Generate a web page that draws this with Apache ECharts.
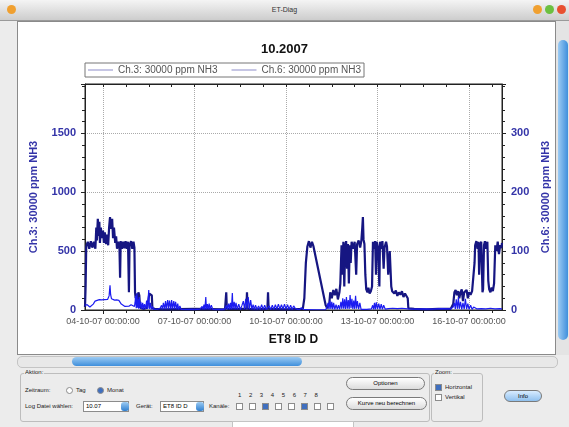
<!DOCTYPE html>
<html>
<head>
<meta charset="utf-8">
<script src="https://cdn.jsdelivr.net/npm/echarts@6.0.0/dist/echarts.min.js"></script>
<style>
body { margin: 0; width: 569px; height: 427px; overflow: hidden; position: relative; background: #ececec; font-family: "Liberation Sans", Arial, sans-serif; }
.abs { position: absolute; }
.titlebar { left: 0; top: 0; width: 569px; height: 20px; background: linear-gradient(#f4f4f4, #cdcdcd); border-bottom: 1px solid #9a9a9a; text-align: center; font-size: 7px; line-height: 20px; color: #333; }
.dot { width: 9px; height: 9px; border-radius: 50%; top: 5px; }
.panel { left: 17px; top: 21px; width: 537px; height: 332px; background: #fff; border: 1px solid #8a8a8a; }
.vscroll { left: 556px; top: 21px; width: 13px; height: 334px; background: #e4e4e4; }
.vthumb { left: 558px; top: 40px; width: 10px; height: 300px; border-radius: 5px; background: linear-gradient(90deg, #9ccbf3, #3f8fdc); }
.hscroll { left: 17px; top: 356px; width: 539px; height: 10px; background: #e8e8e8; border: 1px solid #c4c4c4; border-radius: 5px; }
.hthumb { left: 72px; top: 357px; width: 230px; height: 9px; border-radius: 5px; background: linear-gradient(#9ccbf3, #3f8fdc); }
.group { border: 1px solid #bdbdbd; border-radius: 3px; }
.lbl { font-size: 6px; color: #222; white-space: nowrap; }
.box { background: #fff; border: 1px solid #8c8c8c; font-size: 6px; line-height: 9px; padding-left: 2px; box-sizing: border-box; }
.spin { width: 8px; height: 9px; border-radius: 3px; background: linear-gradient(#9ccbf3, #2f7fd0); }
.cb { width: 7px; height: 7px; border: 1px solid #8c8c8c; background: #fff; box-sizing: border-box; }
.cb.on { background: #3f6fbf; }
.btn { border: 1px solid #7a7a7a; border-radius: 7px; background: linear-gradient(#ffffff, #dcdcdc); font-size: 6px; text-align: center; line-height: 11px; }
#chart { left: 0; top: 0; width: 569px; height: 427px; }
</style>
</head>
<body>
<div class="abs titlebar">ET-Diag</div>
<div class="abs dot" style="left:7px;background:#f0a030"></div>
<div class="abs dot" style="left:533px;background:#f0a030"></div>
<div class="abs dot" style="left:545px;background:#6cc040"></div>
<div class="abs dot" style="left:557px;background:#e85030"></div>
<div class="abs panel"></div>
<div class="abs vscroll"></div>
<div class="abs vthumb"></div>
<div class="abs hscroll"></div>
<div class="abs hthumb"></div>

<div class="abs group" style="left:20px;top:373px;width:408px;height:47px"></div>
<div class="abs lbl" style="left:24px;top:369px;background:#ececec;padding:0 1px">Aktion:</div>
<div class="abs lbl" style="left:25px;top:387px">Zeitraum:</div>
<div class="abs cb" style="left:66px;top:387px;border-radius:50%"></div>
<div class="abs lbl" style="left:76px;top:387px">Tag</div>
<div class="abs cb on" style="left:97px;top:387px;border-radius:50%"></div>
<div class="abs lbl" style="left:107px;top:387px">Monat</div>
<div class="abs lbl" style="left:25px;top:403px">Log Datei wählen:</div>
<div class="abs box" style="left:83px;top:401px;width:46px;height:11px">10.07</div>
<div class="abs spin" style="left:121px;top:402px"></div>
<div class="abs lbl" style="left:136px;top:403px">Gerät:</div>
<div class="abs box" style="left:160px;top:401px;width:44px;height:11px">ET8 ID D</div>
<div class="abs spin" style="left:196px;top:402px"></div>
<div class="abs lbl" style="left:209px;top:403px">Kanäle:</div>
<div class="abs lbl" style="left:238px;top:392px;letter-spacing:7.6px">12345678</div>
<div class="abs cb" style="left:236px;top:403px"></div>
<div class="abs cb" style="left:249px;top:403px"></div>
<div class="abs cb on" style="left:262px;top:403px"></div>
<div class="abs cb" style="left:275px;top:403px"></div>
<div class="abs cb" style="left:288px;top:403px"></div>
<div class="abs cb on" style="left:301px;top:403px"></div>
<div class="abs cb" style="left:314px;top:403px"></div>
<div class="abs cb" style="left:327px;top:403px"></div>
<div class="abs btn" style="left:346px;top:377px;width:77px;height:11px">Optionen</div>
<div class="abs btn" style="left:346px;top:397px;width:79px;height:11px">Kurve neu berechnen</div>

<div class="abs group" style="left:431px;top:373px;width:50px;height:47px"></div>
<div class="abs lbl" style="left:434px;top:369px;background:#ececec;padding:0 1px">Zoom:</div>
<div class="abs cb on" style="left:435px;top:384px"></div>
<div class="abs lbl" style="left:445px;top:384px">Horizontal</div>
<div class="abs cb" style="left:435px;top:394px"></div>
<div class="abs lbl" style="left:445px;top:394px">Vertikal</div>
<div class="abs btn" style="left:504px;top:390px;width:36px;height:10px;background:linear-gradient(#d8ecff,#8fc0ee);line-height:10px">Info</div>
<div class="abs" style="left:232px;top:421px;width:120px;height:6px;background:#fff;border:1px solid #c4c4c4"></div>

<div id="chart" class="abs"></div>

<script>
// Kanal 3 (linke Achse)
var ch3Time = [
  3.41, 3.44, 3.48, 3.52, 3.57, 3.62, 3.68, 3.74, 3.80, 3.88,
  3.95, 4.00, 4.05, 4.10, 4.15, 4.20, 4.23, 4.25, 4.28, 4.32,
  4.38, 4.45, 4.52, 4.56, 4.60, 4.65, 4.72, 4.78, 4.85, 4.92,
  4.98, 5.03, 5.05, 5.07, 5.09, 5.11, 5.13, 5.15, 5.17, 5.19,
  5.21, 5.24, 5.27, 5.30, 5.33, 5.36, 5.40, 5.43, 5.46, 5.50,
  5.52, 5.55, 5.58, 5.62, 5.66, 5.72, 5.80, 5.87, 5.92, 5.95,
  5.98, 6.02, 6.05, 6.08, 6.12, 6.15, 6.18, 6.22, 6.25, 6.28,
  6.32, 6.35, 6.38, 6.42, 6.45, 6.48, 6.52, 6.56, 6.62, 6.75,
  6.90, 7.00, 7.18, 7.25, 7.28, 7.31, 7.34, 7.37, 7.39, 7.42,
  7.45, 7.48, 7.51, 7.55, 7.60, 7.65, 7.72, 7.80, 7.90, 8.00,
  8.05, 8.08, 8.12, 8.15, 8.18, 8.21, 8.24, 8.26, 8.30, 8.33,
  8.36, 8.40, 8.45, 8.50, 8.55, 8.60, 8.64, 8.68, 8.72, 8.76,
  8.80, 8.84, 8.88, 8.92, 8.96, 9.00, 9.05, 9.10, 9.15, 9.20,
  9.25, 9.30, 9.35, 9.41, 9.45, 9.50, 9.55, 9.60, 9.65, 9.70,
  9.75, 9.80, 9.85, 9.90, 9.95, 10.00, 10.05, 10.10, 10.15, 10.20,
  10.25, 10.30, 10.38, 10.45, 10.50, 10.53, 10.56, 10.60, 11.00, 11.30,
  11.35, 11.38, 11.41, 11.44, 11.47, 11.50, 11.53, 11.56, 11.60, 11.64,
  11.68, 11.72, 11.76, 11.80, 11.83, 11.86, 11.89, 11.92, 11.95, 11.98,
  12.01, 12.04, 12.07, 12.10, 12.13, 12.16, 12.19, 12.22, 12.25, 12.28,
  12.31, 12.34, 12.38, 12.42, 12.46, 12.52, 12.65, 12.80, 12.84, 12.87,
  12.90, 12.93, 12.96, 13.00, 13.04, 13.08, 13.12, 13.16, 13.20, 13.25,
  13.35, 13.50, 13.65, 13.80, 14.00, 14.20, 14.50, 14.80, 15.10, 15.40,
  15.48, 15.52, 15.55, 15.58, 15.62, 15.65, 15.68, 15.72, 15.76, 15.80,
  15.84, 15.88, 15.92, 15.96, 16.00, 16.05, 16.10, 16.15, 16.25, 16.40,
  16.55, 16.70, 16.85, 17.00, 17.08
];
var ch3Val = [
  40, 55, 45, 30, 25, 30, 50, 75, 85, 88,
  86, 85, 88, 84, 90, 120, 210, 130, 95, 88,
  84, 86, 82, 70, 50, 40, 30, 28, 32, 45,
  40, 30, 60, 120, 15, 140, 20, 90, 10, 110,
  15, 70, 10, 60, 8, 50, 10, 80, 8, 170,
  10, 60, 5, 30, 5, 12, 8, 15, 40, 8,
  60, 10, 75, 12, 85, 10, 80, 10, 85, 12,
  75, 10, 70, 8, 55, 5, 35, 5, 5, 3,
  5, 3, 8, 30, 5, 45, 5, 110, 8, 50,
  8, 55, 5, 40, 5, 8, 3, 5, 3, 10,
  40, 5, 55, 8, 60, 8, 145, 10, 70, 8,
  60, 8, 50, 5, 35, 75, 10, 95, 12, 110,
  10, 85, 8, 45, 5, 40, 5, 35, 5, 45,
  5, 40, 5, 10, 35, 5, 40, 5, 45, 8,
  50, 8, 45, 8, 50, 8, 45, 5, 40, 5,
  35, 15, 5, 3, 20, 35, 10, 3, 2, 3,
  30, 60, 8, 80, 10, 70, 8, 60, 5, 45,
  5, 40, 5, 70, 10, 100, 12, 90, 8, 110,
  12, 85, 8, 127, 15, 95, 8, 80, 10, 120,
  12, 75, 8, 60, 5, 8, 5, 10, 40, 5,
  60, 5, 65, 8, 55, 5, 50, 5, 40, 8,
  12, 15, 12, 15, 10, 8, 10, 8, 12, 10,
  25, 60, 8, 90, 10, 110, 10, 70, 5, 60,
  8, 95, 8, 55, 5, 40, 5, 25, 10, 12,
  10, 15, 10, 12, 10
];

// Kanal 6 (rechte Achse)
var ch6Time = [
  3.41, 3.43, 3.45, 3.50, 3.55, 3.60, 3.65, 3.70, 3.75, 3.78,
  3.80, 3.83, 3.86, 3.88, 3.90, 3.93, 3.96, 4.00, 4.03, 4.06,
  4.10, 4.13, 4.17, 4.20, 4.23, 4.26, 4.30, 4.33, 4.36, 4.40,
  4.43, 4.46, 4.50, 4.54, 4.56, 4.58, 4.62, 4.66, 4.70, 4.74,
  4.78, 4.82, 4.85, 4.87, 4.92, 4.96, 5.00, 5.03, 5.05, 5.07,
  5.10, 5.13, 5.16, 5.19, 5.21, 5.25, 5.30, 5.35, 5.45, 5.52,
  5.56, 5.60, 5.62, 5.70, 6.00, 7.00, 8.00, 8.04, 8.06, 8.70,
  8.72, 8.74, 9.00, 9.39, 9.41, 9.43, 10.00, 10.55, 10.60, 10.65,
  10.70, 10.75, 10.80, 10.85, 10.90, 11.30, 11.35, 11.42, 11.45, 11.50,
  11.55, 11.60, 11.65, 11.70, 11.75, 11.78, 11.82, 11.85, 11.88, 11.91,
  11.94, 11.97, 12.00, 12.03, 12.06, 12.09, 12.12, 12.15, 12.20, 12.25,
  12.30, 12.33, 12.38, 12.43, 12.47, 12.50, 12.52, 12.54, 12.57, 12.60,
  12.63, 12.67, 12.70, 12.74, 12.78, 12.82, 12.85, 12.88, 12.92, 12.95,
  12.97, 13.02, 13.06, 13.08, 13.12, 13.16, 13.20, 13.23, 13.28, 13.31,
  13.35, 13.40, 13.45, 13.48, 13.55, 13.60, 13.65, 13.70, 13.75, 13.80,
  13.85, 13.90, 13.95, 13.99, 14.01, 14.20, 14.60, 15.00, 15.40, 15.48,
  15.52, 15.56, 15.60, 15.64, 15.68, 15.72, 15.76, 15.80, 15.84, 15.88,
  15.92, 15.96, 16.00, 16.05, 16.10, 16.15, 16.18, 16.20, 16.24, 16.28,
  16.31, 16.33, 16.36, 16.40, 16.44, 16.46, 16.49, 16.52, 16.56, 16.60,
  16.63, 16.66, 16.70, 16.74, 16.78, 16.82, 16.86, 16.90, 16.94, 16.98,
  17.02, 17.06, 17.08
];
var ch6Val = [
  5, 40, 108, 116, 104, 117, 106, 116, 104, 140,
  118, 155, 126, 150, 114, 140, 122, 135, 114, 132,
  112, 128, 110, 140, 158, 138, 155, 122, 140, 114,
  125, 104, 116, 106, 55, 117, 104, 116, 105, 117,
  104, 116, 30, 110, 117, 104, 116, 106, 30, 20,
  28, 15, 30, 25, 8, 3, 5, 2, 4, 28,
  30, 25, 3, 2, 1, 2, 1, 30, 2, 2,
  30, 2, 1, 2, 30, 2, 1, 2, 20, 80,
  108, 117, 106, 116, 108, 8, 3, 12, 30, 20,
  34, 25, 36, 18, 30, 45, 110, 60, 116, 40,
  108, 117, 70, 112, 45, 110, 80, 116, 104, 116,
  60, 112, 118, 106, 118, 140, 158, 120, 112, 60,
  35, 30, 38, 28, 32, 40, 116, 104, 117, 60,
  116, 105, 40, 116, 104, 117, 70, 106, 116, 108,
  60, 100, 40, 32, 28, 33, 24, 30, 26, 32,
  22, 28, 25, 20, 3, 2, 1, 2, 2, 10,
  30, 34, 25, 32, 20, 30, 35, 15, 30, 28,
  34, 20, 30, 26, 32, 30, 80, 110, 117, 104,
  116, 60, 110, 116, 30, 35, 110, 117, 104, 116,
  50, 35, 30, 38, 32, 45, 110, 100, 116, 95,
  110, 105, 114
];

// Achsen
var xTickDays = [4, 7, 10, 13, 16];
var xTickLabels = ['04-10-07 00:00:00', '07-10-07 00:00:00', '10-10-07 00:00:00', '13-10-07 00:00:00', '16-10-07 00:00:00'];
var xMin = 3.41, xMax = 17.08;
var leftMax = 1920, rightMax = 384;

// kleine Striche alle 18 Stunden
var xMinorDays = [];
for (var d = 4; d <= xMax; d += 0.75) xMinorDays.push(d);

function pairs(t, v) {
  return t.map(function (x, i) { return [x, v[i]]; });
}

var black = '#222';
var axisBlue = '#3434a8';

var chart = echarts.init(document.getElementById('chart'), null, { renderer: 'canvas' });
var option = {
  animation: false,
  backgroundColor: 'transparent',
  textStyle: { fontFamily: 'Liberation Sans, Arial, sans-serif' },
  title: {
    text: '10.2007',
    left: 'center',
    top: 38,
    textStyle: { fontSize: 13, fontWeight: 'bold', color: '#111' }
  },
  legend: {
    left: 85,
    top: 63,
    padding: [2, 3, 2, 3],
    itemGap: 14,
    itemWidth: 25,
    itemHeight: 1,
    icon: 'rect',
    borderColor: '#777',
    borderWidth: 1,
    textStyle: { fontSize: 10, color: '#555' },
    data: [
      { name: 'Ch.3: 30000 ppm NH3', itemStyle: { color: '#8c8cc8' } },
      { name: 'Ch.6: 30000 ppm NH3', itemStyle: { color: '#8c8cc8' } }
    ]
  },
  grid: { left: 85, right: 67, top: 84, bottom: 117, show: true, borderColor: black, borderWidth: 1 },
  xAxis: [
    {
      type: 'value', min: xMin, max: xMax, position: 'bottom',
      name: 'ET8 ID D', nameLocation: 'middle', nameGap: 24,
      nameTextStyle: { fontSize: 12, fontWeight: 'bold', color: '#111' },
      axisLine: { lineStyle: { color: black } },
      axisTick: { customValues: xTickDays, length: 4, lineStyle: { color: black } },
      axisLabel: {
        customValues: xTickDays, fontSize: 9, color: '#555', margin: 7,
        formatter: function (v) { return xTickLabels[xTickDays.indexOf(Math.round(v))]; }
      },
      splitLine: { show: true, lineStyle: { color: '#aaa', type: 'dotted' } }
    },
    {
      type: 'value', min: xMin, max: xMax, position: 'bottom',
      axisLine: { show: false },
      axisTick: { customValues: xMinorDays, length: 3, lineStyle: { color: black } },
      axisLabel: { show: false },
      splitLine: { show: false }
    },
    {
      type: 'value', min: xMin, max: xMax, position: 'top',
      axisLine: { lineStyle: { color: black } },
      axisTick: { customValues: xMinorDays, inside: true, length: 3, lineStyle: { color: black } },
      axisLabel: { show: false },
      splitLine: { show: false }
    }
  ],
  yAxis: [
    {
      type: 'value', min: 0, max: leftMax, interval: 500, position: 'left',
      name: 'Ch.3: 30000 ppm NH3', nameLocation: 'middle', nameGap: 46, nameRotate: 90,
      nameTextStyle: { fontSize: 11, fontWeight: 'bold', color: axisBlue },
      axisLine: { show: true, lineStyle: { color: black } },
      axisTick: { show: true, length: 4, lineStyle: { color: black } },
      minorTick: { show: true, splitNumber: 5, length: 3, lineStyle: { color: black } },
      axisLabel: {
        fontSize: 11, fontWeight: 'bold', color: axisBlue, margin: 9, showMaxLabel: false,
        formatter: function (v) { return String(v); }
      },
      splitLine: { show: true, lineStyle: { color: '#aaa', type: 'dotted' } }
    },
    {
      type: 'value', min: 0, max: rightMax, interval: 100, position: 'right',
      name: 'Ch.6: 30000 ppm NH3', nameLocation: 'middle', nameGap: 38, nameRotate: 90,
      nameTextStyle: { fontSize: 11, fontWeight: 'bold', color: axisBlue },
      axisLine: { show: true, lineStyle: { color: black } },
      axisTick: { show: true, length: 4, lineStyle: { color: black } },
      minorTick: { show: true, splitNumber: 5, length: 3, lineStyle: { color: black } },
      axisLabel: {
        fontSize: 11, fontWeight: 'bold', color: axisBlue, margin: 9, showMaxLabel: false,
        formatter: function (v) { return String(v); }
      },
      splitLine: { show: false }
    }
  ],
  series: [
    {
      name: 'Ch.6: 30000 ppm NH3', type: 'line', yAxisIndex: 1, xAxisIndex: 0,
      symbol: 'none',
      lineStyle: { color: '#161682', width: 2.2 }, itemStyle: { color: '#161682' },
      data: pairs(ch6Time, ch6Val)
    },
    {
      name: 'Ch.3: 30000 ppm NH3', type: 'line', yAxisIndex: 0, xAxisIndex: 0,
      symbol: 'none',
      lineStyle: { color: '#1c1cf0', width: 1.2 }, itemStyle: { color: '#1c1cf0' },
      data: pairs(ch3Time, ch3Val)
    }
  ]
};
chart.setOption(option);
</script>
</body>
</html>
